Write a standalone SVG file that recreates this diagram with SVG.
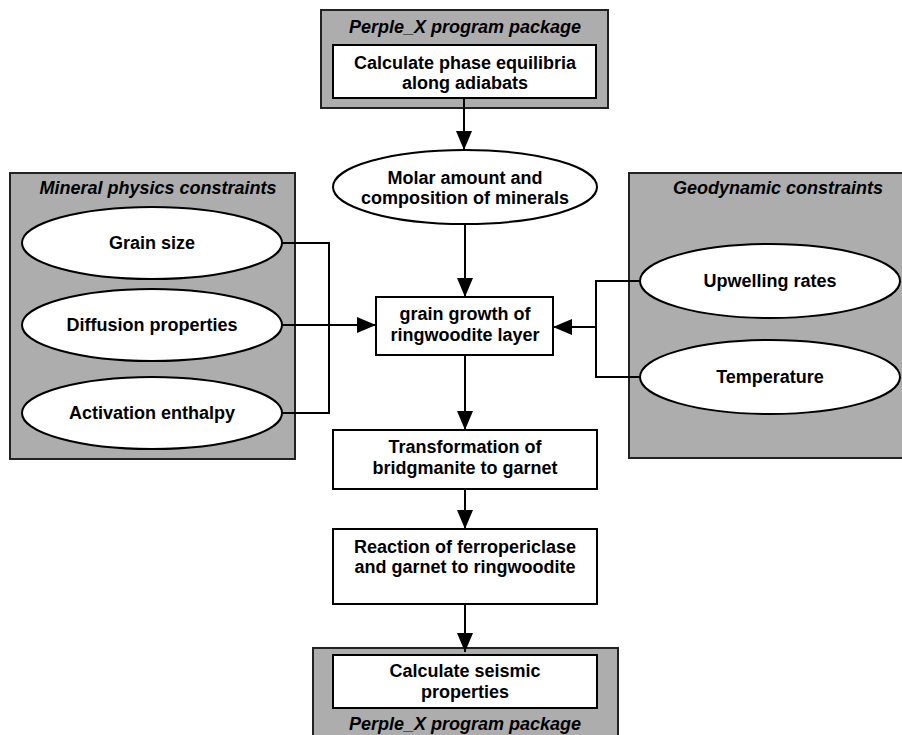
<svg xmlns="http://www.w3.org/2000/svg" width="902" height="735" viewBox="0 0 902 735">
<defs>
<style>
text{font-family:"Liberation Sans",Arial,sans-serif;font-weight:bold;font-size:18px;fill:#000;text-anchor:middle;dominant-baseline:central}
.t{font-style:italic}
.g{fill:#adadad;stroke:#222;stroke-width:2}
.w{fill:#fff;stroke:#000;stroke-width:2}
.c{fill:none;stroke:#000;stroke-width:2}
</style>
<marker id="ah" markerWidth="19" markerHeight="16" refX="19" refY="8" orient="auto" markerUnits="userSpaceOnUse">
<path d="M0,0 L19,8 L0,16 Z" fill="#000"/>
</marker>
</defs>
<rect width="902" height="735" fill="#fff"/>
<g id="perplex-top">
<rect class="g" x="321" y="10" width="287" height="98"/>
<text class="t" x="465" y="27">Perple_X program package</text>
<rect class="w" x="333" y="45" width="263" height="53"/>
<text x="465" y="63">Calculate phase equilibria</text>
<text x="465" y="83">along adiabats</text>
</g>
<g id="molar">
<ellipse class="w" cx="465" cy="187" rx="132" ry="37"/>
<text x="465" y="178">Molar amount and</text>
<text x="465" y="198">composition of minerals</text>
</g>
<g id="mineral-physics">
<rect class="g" x="10" y="173" width="285" height="286"/>
<text class="t" x="158" y="188">Mineral physics constraints</text>
</g>
<g id="grain-size">
<ellipse class="w" cx="152" cy="243" rx="130" ry="36"/>
<text x="152" y="243">Grain size</text>
</g>
<g id="diffusion">
<ellipse class="w" cx="152" cy="325" rx="130" ry="36"/>
<text x="152" y="325">Diffusion properties</text>
</g>
<g id="activation">
<ellipse class="w" cx="152" cy="413" rx="130" ry="36"/>
<text x="152" y="413">Activation enthalpy</text>
</g>
<g id="geodynamic">
<rect class="g" x="629" y="173" width="280" height="285"/>
<text class="t" x="778" y="188">Geodynamic constraints</text>
</g>
<g id="upwelling">
<ellipse class="w" cx="770" cy="281" rx="130" ry="37"/>
<text x="770" y="281">Upwelling rates</text>
</g>
<g id="temperature">
<ellipse class="w" cx="770" cy="377" rx="130" ry="37"/>
<text x="770" y="377">Temperature</text>
</g>
<g id="grain-growth">
<rect class="w" x="376" y="297" width="177" height="58"/>
<text x="465" y="314">grain growth of</text>
<text x="465" y="335">ringwoodite layer</text>
</g>
<g id="transformation">
<rect class="w" x="333" y="430" width="264" height="59"/>
<text x="465" y="447">Transformation of</text>
<text x="465" y="468">bridgmanite to garnet</text>
</g>
<g id="reaction">
<rect class="w" x="333" y="529" width="264" height="75"/>
<text x="465" y="547">Reaction of ferropericlase</text>
<text x="465" y="567">and garnet to ringwoodite</text>
</g>
<g id="perplex-bottom">
<rect class="g" x="313" y="648" width="305" height="100"/>
<rect class="w" x="333" y="655" width="264" height="53"/>
<text x="465" y="671">Calculate seismic</text>
<text x="465" y="692">properties</text>
<text class="t" x="465" y="724">Perple_X program package</text>
</g>
<g id="connectors">
<path class="c" d="M464,98 V150" marker-end="url(#ah)"/>
<path class="c" d="M465,224 V297" marker-end="url(#ah)"/>
<path class="c" d="M465,355 V430" marker-end="url(#ah)"/>
<path class="c" d="M465,489 V529" marker-end="url(#ah)"/>
<path class="c" d="M465,604 V652" marker-end="url(#ah)"/>
<path class="c" d="M282,243 H329 V413 H282"/>
<path class="c" d="M282,325 H376" marker-end="url(#ah)"/>
<path class="c" d="M640,281 H596 V377 H640"/>
<path class="c" d="M596,327 H553" marker-end="url(#ah)"/>
</g>
</svg>
